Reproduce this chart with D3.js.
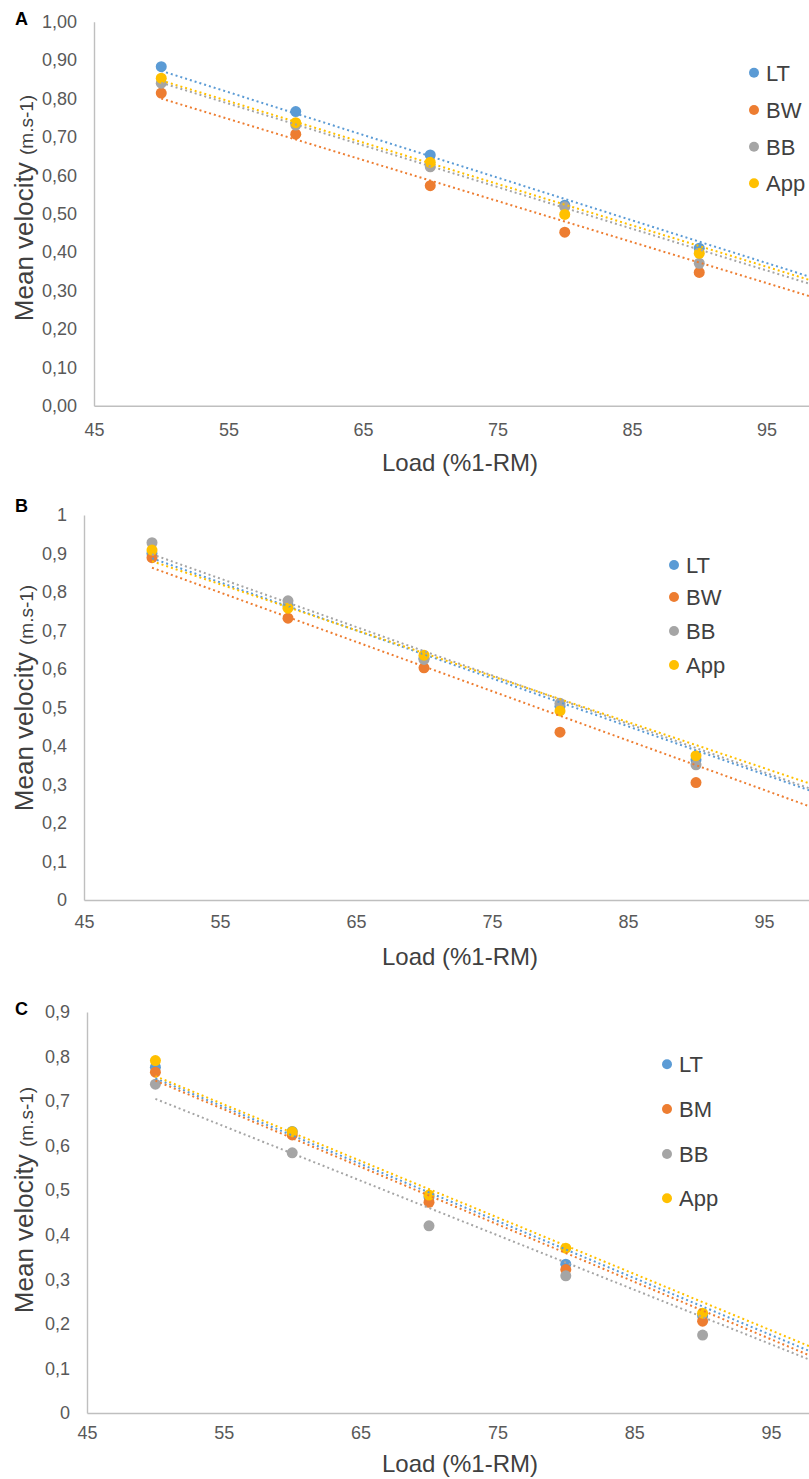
<!DOCTYPE html>
<html>
<head>
<meta charset="utf-8">
<script src="https://cdn.jsdelivr.net/npm/d3@7"></script>
<style>
  html, body { margin: 0; padding: 0; background: #fff; }
  svg { display: block; }
  text { font-family: "Liberation Sans", Arial, Helvetica, sans-serif; }
</style>
</head>
<body>
<script>
// ---- data ----
const loads = [50, 60, 70, 80, 90];
const xTicks = [45, 55, 65, 75, 85, 95];
const colors = ["#5B9BD5", "#ED7D31", "#A5A5A5", "#FFC000"];

// Panel A
const namesA = ["LT", "BW", "BB", "App"];
const velA_LT  = [0.883, 0.766, 0.653, 0.522, 0.410];
const velA_BW  = [0.814, 0.707, 0.573, 0.452, 0.347];
const velA_BB  = [0.840, 0.731, 0.622, 0.518, 0.371];
const velA_App = [0.853, 0.737, 0.634, 0.498, 0.397];
const trendA_at50  = [0.872, 0.800, 0.841, 0.847];
const trendA_at100 = [0.316, 0.266, 0.298, 0.308];
const yTicksA = [0, 0.1, 0.2, 0.3, 0.4, 0.5, 0.6, 0.7, 0.8, 0.9, 1.0];
const yLabelsA = ["0,00", "0,10", "0,20", "0,30", "0,40", "0,50", "0,60", "0,70", "0,80", "0,90", "1,00"];

// Panel B
const namesB = ["LT", "BW", "BB", "App"];
const velB_LT  = [0.900, 0.765, 0.628, 0.503, 0.364];
const velB_BW  = [0.889, 0.732, 0.603, 0.436, 0.305];
const velB_BB  = [0.928, 0.777, 0.625, 0.511, 0.351];
const velB_App = [0.909, 0.758, 0.636, 0.491, 0.375];
const trendB_at50  = [0.8875, 0.863, 0.898, 0.880];
const trendB_at100 = [0.264, 0.222, 0.269, 0.283];
const yTicksB = [0, 0.1, 0.2, 0.3, 0.4, 0.5, 0.6, 0.7, 0.8, 0.9, 1.0];
const yLabelsB = ["0", "0,1", "0,2", "0,3", "0,4", "0,5", "0,6", "0,7", "0,8", "0,9", "1"];

// Panel C
const namesC = ["LT", "BM", "BB", "App"];
const velC_LT  = [0.776, 0.632, 0.485, 0.334, 0.218];
const velC_BM  = [0.765, 0.624, 0.473, 0.322, 0.206];
const velC_BB  = [0.738, 0.584, 0.420, 0.308, 0.175];
const velC_App = [0.791, 0.631, 0.489, 0.370, 0.224];
const trendC_at50  = [0.751, 0.746, 0.705, 0.756];
const trendC_at100 = [0.111, 0.101, 0.093, 0.122];
const yTicksC = [0, 0.1, 0.2, 0.3, 0.4, 0.5, 0.6, 0.7, 0.8, 0.9];
const yLabelsC = ["0", "0,1", "0,2", "0,3", "0,4", "0,5", "0,6", "0,7", "0,8", "0,9"];

const xTitle = "Load (%1-RM)";
const yTitleMain = "Mean velocity ";
const yTitleUnit = "(m.s-1)";

// ---- drawing ----
const W = 809, H = 1479;
const svg = d3.select("body").append("svg").attr("width", W).attr("height", H);

function drawPanel(p) {
  const g = svg.append("g");
  // p.unit = pixels per 1 %1-RM
  const x = d3.scaleLinear().domain([45, 105]).range([p.left, p.left + 60 * p.unit]);
  const y = d3.scaleLinear().domain([0, p.yMax]).range([p.bottom, p.top]);

  // y axis
  const ya = g.append("g").attr("transform", `translate(${p.left},0)`)
    .call(d3.axisLeft(y).tickValues(p.yTicks).tickSize(0).tickSizeOuter(0)
      .tickPadding(17).tickFormat((d, i) => p.yLabels[i]));
  // x axis
  const xa = g.append("g").attr("transform", `translate(0,${p.bottom})`)
    .call(d3.axisBottom(x).tickValues(xTicks).tickSize(0).tickSizeOuter(0)
      .tickPadding(p.xPad).tickFormat(d3.format("d")));
  [ya, xa].forEach(a => {
    a.select(".domain").attr("stroke", "#bfbfbf").attr("stroke-width", 1.4);
    a.selectAll("text").attr("fill", "#595959").attr("font-size", 18)
      .attr("font-family", "'Liberation Sans', Arial, sans-serif");
  });

  // markers
  p.series.forEach((vals, si) => {
    g.append("g").selectAll("circle").data(vals).join("circle")
      .attr("cx", (d, i) => x(loads[i]))
      .attr("cy", d => y(d))
      .attr("r", 5.5)
      .attr("fill", colors[si]);
  });

  // dotted linear trend lines
  const line = d3.line().x(d => x(d[0])).y(d => y(d[1]));
  p.at50.forEach((v, si) => {
    g.append("path")
      .attr("d", line([[50, v], [100, p.at100[si]]]))
      .attr("fill", "none")
      .attr("stroke", colors[si])
      .attr("stroke-width", 2)
      .attr("stroke-dasharray", "2,3");
  });

  // legend
  const lg = g.append("g");
  p.names.forEach((n, i) => {
    lg.append("circle").attr("cx", p.legX).attr("cy", p.legY[i]).attr("r", 5).attr("fill", colors[i]);
    lg.append("text").attr("x", p.legX + 12).attr("y", p.legY[i]).attr("dy", "0.36em")
      .attr("font-size", 22).attr("fill", "#404040").text(n);
  });

  // axis titles
  g.append("text").attr("x", 460).attr("y", p.xTitleY).attr("text-anchor", "middle")
    .attr("font-size", 24).attr("fill", "#404040").text(xTitle);
  const yt = g.append("text")
    .attr("transform", `translate(33,${p.yTitleCY}) rotate(-90)`)
    .attr("text-anchor", "middle").attr("fill", "#404040");
  yt.append("tspan").attr("font-size", 26).text(yTitleMain);
  yt.append("tspan").attr("font-size", 19).text(yTitleUnit);

  // panel letter
  g.append("text").attr("x", 15).attr("y", p.letterY).attr("font-size", 18)
    .attr("font-weight", "bold").attr("fill", "#000").text(p.letter);
}

drawPanel({
  letter: "A", letterY: 25,
  left: 94, unit: 13.45, top: 21.7, bottom: 405.7, yMax: 1.0,
  yTicks: yTicksA, yLabels: yLabelsA, xPad: 18,
  series: [velA_LT, velA_BW, velA_BB, velA_App],
  at50: trendA_at50, at100: trendA_at100,
  names: namesA, legX: 754, legY: [72.7, 110, 146.7, 183.3],
  xTitleY: 471, yTitleCY: 208
});

drawPanel({
  letter: "B", letterY: 512,
  left: 84, unit: 13.6, top: 515, bottom: 900, yMax: 1.0,
  yTicks: yTicksB, yLabels: yLabelsB, xPad: 15,
  series: [velB_LT, velB_BW, velB_BB, velB_App],
  at50: trendB_at50, at100: trendB_at100,
  names: namesB, legX: 674, legY: [565, 597, 631, 665],
  xTitleY: 965, yTitleCY: 698
});

drawPanel({
  letter: "C", letterY: 1015,
  left: 87, unit: 13.68, top: 1012, bottom: 1413, yMax: 0.9,
  yTicks: yTicksC, yLabels: yLabelsC, xPad: 13,
  series: [velC_LT, velC_BM, velC_BB, velC_App],
  at50: trendC_at50, at100: trendC_at100,
  names: namesC, legX: 667, legY: [1064.3, 1109, 1154, 1198.3],
  xTitleY: 1472, yTitleCY: 1200
});
</script>
</body>
</html>
